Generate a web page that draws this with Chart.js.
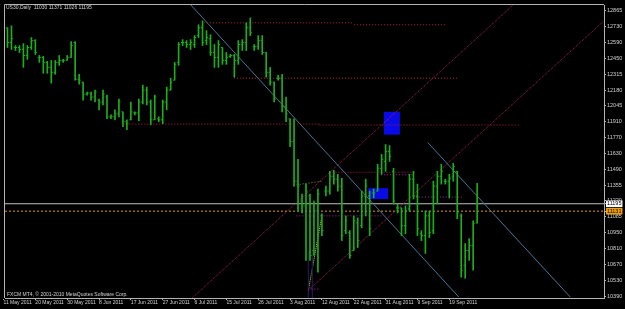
<!DOCTYPE html>
<html>
<head>
<meta charset="utf-8">
<title>US30 Daily</title>
<script src="https://cdn.jsdelivr.net/npm/chart.js@4.4.1/dist/chart.umd.min.js"></script>
<style>
  html, body { margin: 0; padding: 0; background: #000; }
  canvas { display: block; background: #000; }
</style>
</head>
<body>
<canvas id="mt4" width="625" height="309"></canvas>
<script>
// header / footer text of the terminal window
const symbolTitle = 'US30,Daily  11030 11371 11026 11195';
const copyright = 'FXCM MT4, \u00a9 2001-2010 MetaQuotes Software Corp.';

// time axis: one slot per daily bar, label every 8 bars
const dateTicks = [0, 8, 16, 24, 32, 40, 48, 56, 64, 72, 80, 88, 96, 104, 112];
const dateLabels = ['11 May 2011', '20 May 2011', '30 May 2011', '8 Jun 2011', '17 Jun 2011',
  '27 Jun 2011', '6 Jul 2011', '15 Jul 2011', '26 Jul 2011', '3 Aug 2011', '12 Aug 2011',
  '22 Aug 2011', '31 Aug 2011', '9 Sep 2011', '19 Sep 2011'];

// price axis labels
const priceTicks = [12865, 12730, 12590, 12450, 12315, 12180, 12045, 11910, 11770, 11630,
  11490, 11355, 11220, 11085, 10950, 10810, 10670, 10530, 10390];
const bidPrice = 11195;
const orangeLevel = 11131;

// OHLC, one value per bar
const highs = [12762,12719,12736,12565,12565,12582,12565,12634,12616,12479,
  12471,12428,12436,12436,12479,12445,12479,12599,12599,12316,
  12248,12162,12162,12179,12102,12179,12136,11965,12008,12102,
  11991,11922,12076,11991,12102,12222,12205,12093,12136,11948,
  12093,12205,12282,12419,12591,12616,12608,12616,12651,12745,
  12779,12694,12659,12574,12608,12548,12505,12488,12488,12608,
  12616,12762,12805,12574,12651,12651,12505,12376,12248,12308,
  12316,12119,11931,11931,11579,11279,11365,11279,11219,11322,
  11107,11348,11476,11485,11450,11416,11090,10962,11090,11073,
  11305,11408,11305,11322,11536,11622,11708,11699,11502,11193,
  11159,11176,11450,11476,11365,10962,11133,11133,11390,11476,
  11536,11408,11450,11545,11476,11107,10850,10893,11047,11371];
const lows = [12574,12548,12531,12522,12505,12376,12445,12531,12488,12419,
  12325,12325,12239,12316,12393,12419,12436,12462,12265,12231,
  12093,12136,12093,12076,12008,12051,11931,11931,11922,11948,
  11862,11836,11922,11965,11913,12059,12051,11879,11922,11905,
  11888,12008,12179,12265,12393,12565,12548,12531,12548,12634,
  12565,12574,12479,12376,12376,12402,12402,12462,12291,12402,
  12522,12522,12651,12522,12531,12488,12291,12222,12076,12265,
  11991,11905,11690,11348,11133,11116,10705,10705,10747,10602,
  10919,11262,11279,11365,11305,10876,10936,10722,10790,10816,
  10987,11090,10919,11245,11305,11450,11476,11562,11193,11116,
  10919,10936,11133,11236,10919,10876,10765,10902,10936,11193,
  11365,11365,11245,11390,11065,10559,10550,10705,10619,11026];
const opens = [12676,12719,12591,12548,12548,12531,12479,12548,12608,12462,
  12462,12419,12376,12333,12419,12436,12436,12462,12591,12273,
  12248,12145,12153,12119,12093,12076,12119,11948,11948,11973,
  11991,11905,11922,11982,11982,12076,12179,12076,11922,11931,
  11922,12076,12179,12265,12419,12591,12591,12574,12574,12651,
  12719,12608,12625,12505,12462,12548,12436,12471,12479,12436,
  12574,12591,12719,12556,12556,12608,12505,12333,12248,12282,
  12282,12033,11931,11733,11390,11219,11176,11262,10790,11133,
  11090,11305,11305,11433,11408,11348,10962,10945,10790,11030,
  11005,11262,11262,11288,11305,11502,11562,11648,11476,11159,
  11159,11005,11150,11408,11262,10936,10919,11090,10962,11348,
  11433,11390,11390,11433,11476,11090,10662,10790,10833,11030];
const closes = [12719,12591,12625,12548,12531,12479,12548,12608,12505,12462,
  12419,12376,12333,12419,12436,12436,12462,12565,12273,12265,
  12145,12153,12119,12162,12076,12145,11948,11948,11973,12076,
  11905,11888,11991,11982,12076,12179,12076,11922,12119,11922,
  12076,12179,12248,12402,12574,12591,12574,12591,12634,12719,
  12591,12634,12505,12462,12574,12436,12462,12479,12436,12574,
  12591,12719,12676,12556,12608,12505,12333,12248,12102,12282,
  12033,11973,11733,11390,11348,11176,11305,10747,11133,11279,
  10962,11305,11433,11408,11348,10919,11047,10747,11047,10876,
  11262,11348,10979,11288,11502,11579,11648,11605,11219,11159,
  11005,11133,11408,11262,10979,10919,11090,10945,11348,11433,
  11476,11390,11416,11519,11116,10619,10790,10833,11022,11195];

// drawn objects, in bar index / price units
// horizontal levels: [fromBar, toBar, price]
const redLevels = [[50.4, 88.1, 12762], [88.1, 111.4, 12745], [57.9, 114.1, 12282],
  [30.1, 79.4, 11885], [79.4, 129.4, 11877], [81.9, 103.6, 11468]];
const purpleLevels = [[73.6, 94.9, 11090], [103.6, 115.1, 11253], [94.9, 103.1, 11446], [76.6, 79.4, 10456]];
// trend lines: [bar0, price0, bar1, price1]
const slateLines = [[46.6, 12934, 114.4, 10387], [106.6, 11725, 142.4, 10387]];
const crimsonLines = [[47.4, 10379, 128.6, 12934], [76.6, 10447, 150.9, 12779]];
const oliveLine = [72.9, 11356, 79.9, 11390];
const yellowLine = [76.6, 10447, 79.9, 11073];
const navyLines = [[76.6, 10790, 76.6, 10379], [77.6, 10790, 77.6, 10379]];
// rectangles: [bar0, bar1, top, bottom]
const boxes = [[95.6, 99.6, 11991, 11793], [91.6, 96.6, 11330, 11236]];

const xMin = 0.375, xMax = 150.875;
const yMin = 10379, yMax = 12916;

const GREEN = '#1cae1c';
const AXIS = '#b4b4b4';
const TEXT = '#d2d2d2';
const FONT = 'Liberation Sans';

function segment(x0, y0, x1, y1, color, dash, order) {
  return {
    type: 'line',
    data: [{x: x0, y: y0}, {x: x1, y: y1}],
    borderColor: color, borderWidth: 1, borderDash: dash,
    pointRadius: 0, fill: false, tension: 0, order: order
  };
}

const datasets = [
  {
    type: 'bar',
    data: highs.map((h, i) => ({x: i, y: [lows[i], h]})),
    backgroundColor: GREEN, barThickness: 1, grouped: false, order: 0
  },
  {
    type: 'scatter',
    data: opens.map((o, i) => ({x: i - 0.25, y: o})),
    pointStyle: 'line', pointRadius: 0.6, borderColor: GREEN, pointBorderWidth: 1, order: 0
  },
  {
    type: 'scatter',
    data: closes.map((c, i) => ({x: i + 0.25, y: c})),
    pointStyle: 'line', pointRadius: 0.6, borderColor: GREEN, pointBorderWidth: 1, order: 0
  }
];

redLevels.forEach(l => datasets.push(segment(l[0], l[2], l[1], l[2], '#b8203e', [1, 2], 1)));
purpleLevels.forEach(l => datasets.push(segment(l[0], l[2], l[1], l[2], '#b024b0', [1, 2], 1)));
slateLines.forEach(l => datasets.push(segment(l[0], l[1], l[2], l[3], '#467896', [], 1)));
crimsonLines.forEach(l => datasets.push(segment(l[0], l[1], l[2], l[3], '#a8245e', [1, 1], 1)));
navyLines.forEach(l => datasets.push(segment(l[0], l[1], l[2], l[3], '#1a1a4e', [], 1)));
datasets.push(segment(oliveLine[0], oliveLine[1], oliveLine[2], oliveLine[3], '#9a9a20', [1, 2], 1));
datasets.push(segment(yellowLine[0], yellowLine[1], yellowLine[2], yellowLine[3], '#e6e628', [1, 1], 1));
datasets.push(segment(xMin, bidPrice, xMax, bidPrice, '#c0c0c0', [], 1));
datasets.push(segment(xMin, orangeLevel, xMax, orangeLevel, '#e69b00', [2, 2], 1));

// each box = top edge filled down to its bottom edge
boxes.forEach(b => {
  datasets.push({
    type: 'line', data: [{x: b[0], y: b[2]}, {x: b[1], y: b[2]}],
    borderWidth: 0, pointRadius: 0, backgroundColor: '#0a0ae6', fill: '+1', order: 2
  });
  datasets.push({
    type: 'line', data: [{x: b[0], y: b[3]}, {x: b[1], y: b[3]}],
    borderWidth: 0, pointRadius: 0, fill: false, order: 2
  });
});

const terminalText = {
  id: 'terminalText',
  afterDraw(chart) {
    const {ctx, chartArea: a} = chart;
    ctx.save();
    ctx.strokeStyle = AXIS;
    ctx.lineWidth = 1;
    ctx.beginPath();
    ctx.moveTo(a.left - 0.5, a.bottom);
    ctx.lineTo(a.left - 0.5, a.top - 0.5);
    ctx.lineTo(a.right, a.top - 0.5);
    ctx.stroke();
    ctx.fillStyle = TEXT;
    ctx.font = '5px "' + FONT + '"';
    ctx.textBaseline = 'middle';
    ctx.fillText(symbolTitle, a.left + 1, a.top + 3);
    ctx.fillText(copyright, a.left + 2, a.bottom - 3);
    ctx.restore();
  }
};

const isSpecial = v => v === bidPrice || v === orangeLevel;

new Chart(document.getElementById('mt4'), {
  type: 'bar',
  data: {datasets: datasets},
  plugins: [terminalText],
  options: {
    responsive: false,
    devicePixelRatio: 1,
    animation: false,
    events: [],
    layout: {padding: {left: 2, top: 2, right: 0, bottom: 0}},
    plugins: {
      legend: {display: false},
      tooltip: {enabled: false}
    },
    scales: {
      x: {
        type: 'linear', min: xMin, max: xMax, offset: false,
        grid: {drawOnChartArea: false, tickLength: 2, color: AXIS, offset: false},
        border: {color: AXIS},
        ticks: {
          align: 'start', padding: 0, maxRotation: 0, autoSkip: false, color: TEXT,
          font: {family: FONT, size: 5},
          callback: (v, k) => dateLabels[k]
        },
        afterBuildTicks: s => { s.ticks = dateTicks.map(v => ({value: v})); },
        afterFit: s => { s.height = 11; }
      },
      y: {
        type: 'linear', position: 'right', min: yMin, max: yMax, beginAtZero: false,
        grid: {drawOnChartArea: false, tickLength: 2, color: AXIS},
        border: {color: AXIS},
        ticks: {
          padding: 1, autoSkip: false,
          font: {family: FONT, size: 5.5},
          color: c => isSpecial(c.tick.value) ? '#000' : TEXT,
          showLabelBackdrop: c => isSpecial(c.tick.value),
          backdropColor: c => c.tick.value === bidPrice ? '#ffffff' : '#f0a000',
          backdropPadding: {left: 1, right: 1, top: 0, bottom: 0},
          callback: v => String(v)
        },
        afterBuildTicks: s => {
          s.ticks = priceTicks.concat([orangeLevel, bidPrice]).map(v => ({value: v}));
        },
        afterFit: s => { s.width = 21; }
      }
    }
  }
});
</script>
</body>
</html>
